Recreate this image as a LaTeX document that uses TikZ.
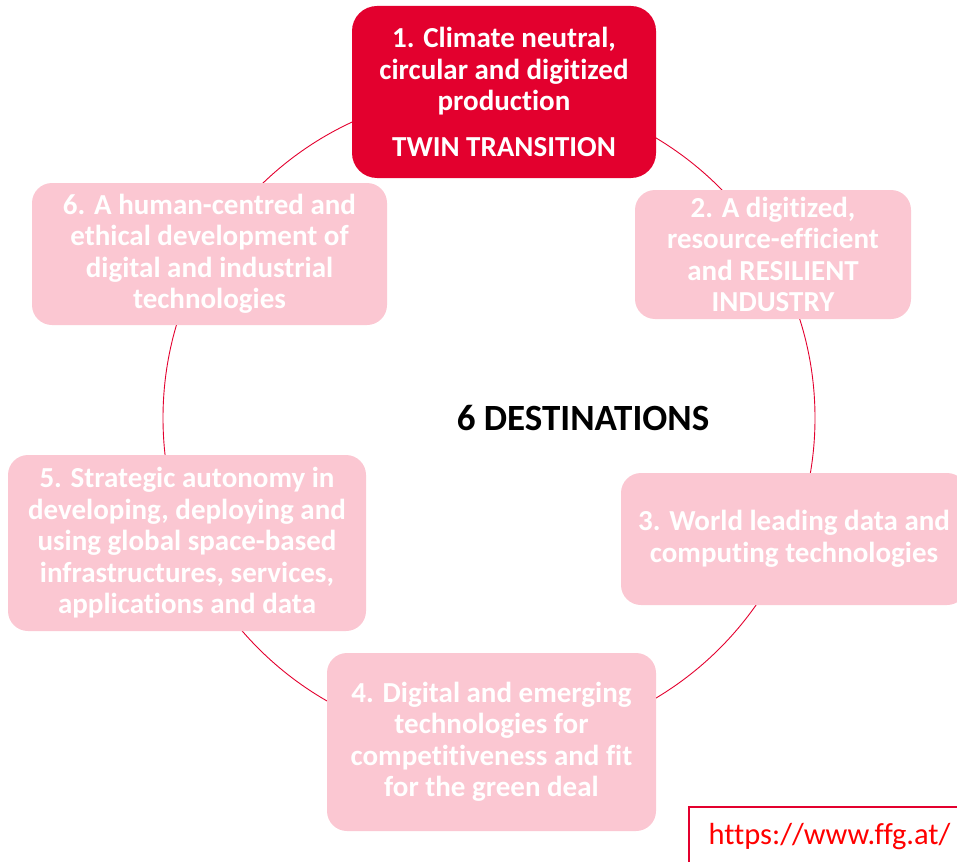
\documentclass[tikz,border=0pt]{standalone}
\usepackage{fontspec}
\setmainfont{Carlito}[Ligatures=NoCommon]
\usepackage{tikz}
\usetikzlibrary{positioning}
\definecolor{twinred}{RGB}{227,0,46}
\definecolor{destpink}{RGB}{251,199,210}
\definecolor{urlred}{RGB}{255,0,0}

\tikzset{
  destbox/.style={fill=destpink, draw=none, rounded corners=20pt, inner sep=0pt,
    align=center, text=white, font=\fontsize{29}{31.5}\selectfont\bfseries},
  mainbox/.style={destbox, fill=twinred, rounded corners=25pt}
}

\begin{document}
\begin{tikzpicture}[x=1pt, y=-1pt]
  \useasboundingbox (0,0) rectangle (957,861);
  \clip (0,0) rectangle (957,861);

  % Ring behind the destinations
  \coordinate (ring) at (489,418);
  \draw[twinred, line width=0.9pt] (ring) circle[radius=326pt];

  % Destinations
  \node[mainbox, minimum width=304pt, minimum height=172pt] (dest1) at (504,92)
    {1. Climate neutral,\\ circular and digitized\\ production\\[14pt] TWIN TRANSITION};
  \node[destbox, minimum width=276pt, minimum height=129pt] (dest2) at (773,254.5)
    {2. A digitized,\\ resource-efficient\\ and RESILIENT\\ INDUSTRY};
  \node[destbox, minimum width=346pt, minimum height=132pt] (dest3) at (794,539)
    {3. World leading data and\\ computing technologies};
  \node[destbox, minimum width=329pt, minimum height=178pt] (dest4) at (491.5,742)
    {4. Digital and emerging\\ technologies for\\ competitiveness and fit\\ for the green deal};
  \node[destbox, minimum width=358pt, minimum height=176pt] (dest5) at (187,543)
    {5. Strategic autonomy in\\ developing, deploying and\\ using global space-based\\ infrastructures, services,\\ applications and data};
  \node[destbox, minimum width=355pt, minimum height=142pt] (dest6) at (209.5,254)
    {6. A human-centred and\\ ethical development of\\ digital and industrial\\ technologies};

  % Centre title
  \node[font=\fontsize{37}{40}\selectfont\bfseries] (centre) at (583,418) {6 DESTINATIONS};

  % Source
  \node[draw=twinred, line width=2pt, fill=white, anchor=north west, minimum width=290pt,
    minimum height=70pt, inner sep=0pt] (url) at (688,806) {};
  \node[urlred, font=\fontsize{30.5}{34}\selectfont, anchor=west] (urltext) at (705,837)
    {https://www.ffg.at/};
\end{tikzpicture}
\end{document}
